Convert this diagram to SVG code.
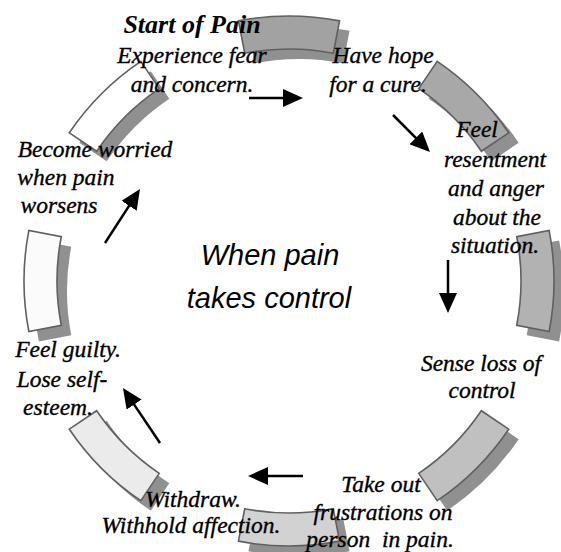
<svg xmlns="http://www.w3.org/2000/svg" width="561" height="552" viewBox="0 0 561 552">
<style>
.sh{fill:#909090;stroke:none}
.sg{stroke:#606060;stroke-width:1.6}
.t{font-family:"Liberation Serif","Times New Roman",serif;font-style:italic;font-size:23.5px;fill:#000;stroke:#000;stroke-width:0.35;text-anchor:middle}
.title{font-weight:bold;font-size:26px;stroke:none}
.c{font-family:"Liberation Sans",Arial,sans-serif;font-style:italic;font-size:29px;fill:#000;text-anchor:middle}
.ar{stroke:#000;stroke-width:2.5;fill:none;marker-end:url(#ah)}
</style>
<defs>
<path id="seg" d="M-50.56,-260.13 A265,265 0 0 1 50.56,-260.13 L44.27,-227.74 A232,232 0 0 0 -44.27,-227.74 Z"/>
<marker id="ah" viewBox="0 0 20 18" refX="2" refY="9" markerWidth="20" markerHeight="18" markerUnits="userSpaceOnUse" orient="auto">
<path d="M0,0 L20,9 L0,18 Z" fill="#000"/>
</marker>
</defs>
<g id="ring">
<g id="seg0"><use href="#seg" class="sh" transform="translate(299,291) rotate(0)"/><use href="#seg" class="sg" fill="#a2a2a2" transform="translate(289,281) rotate(0)"/></g>
<g id="seg45"><use href="#seg" class="sh" transform="translate(299,291) rotate(45)"/><use href="#seg" class="sg" fill="#a8a8a8" transform="translate(289,281) rotate(45)"/></g>
<g id="seg90"><use href="#seg" class="sh" transform="translate(299,291) rotate(90)"/><use href="#seg" class="sg" fill="#b2b2b2" transform="translate(289,281) rotate(90)"/></g>
<g id="seg135"><use href="#seg" class="sh" transform="translate(299,291) rotate(135)"/><use href="#seg" class="sg" fill="#c0c0c0" transform="translate(289,281) rotate(135)"/></g>
<g id="seg180"><use href="#seg" class="sh" transform="translate(299,291) rotate(180)"/><use href="#seg" class="sg" fill="#d2d2d2" transform="translate(289,281) rotate(180)"/></g>
<g id="seg225"><use href="#seg" class="sh" transform="translate(299,291) rotate(225)"/><use href="#seg" class="sg" fill="#ebebeb" transform="translate(289,281) rotate(225)"/></g>
<g id="seg270"><use href="#seg" class="sh" transform="translate(299,291) rotate(270)"/><use href="#seg" class="sg" fill="#fbfbfb" transform="translate(289,281) rotate(270)"/></g>
<g id="seg315"><use href="#seg" class="sh" transform="translate(299,291) rotate(315)"/><use href="#seg" class="sg" fill="#ffffff" transform="translate(289,281) rotate(315)"/></g>
</g>
<g id="connectors">
<line class="ar" x1="249" y1="98" x2="285" y2="98"/>
<line class="ar" x1="393" y1="115" x2="417.3" y2="139.3"/>
<line class="ar" x1="448" y1="260" x2="448" y2="295"/>
<line class="ar" x1="303" y1="476" x2="266" y2="476"/>
<line class="ar" x1="160" y1="443" x2="133" y2="402.9"/>
<line class="ar" x1="105" y1="243" x2="130.2" y2="204.1"/>
</g>
<g id="center"><text class="c" x="270" y="265">When pain</text><text class="c" x="269" y="308">takes control</text></g>
<g id="n-start"><text class="t title" x="192" y="33">Start of Pain</text><text class="t" x="192" y="63">Experience fear</text><text class="t" x="192" y="92">and concern.</text></g>
<g id="n-hope"><text class="t" x="383" y="63">Have hope</text><text class="t" x="378" y="92">for a cure.</text></g>
<g id="n-resent"><text class="t" x="477" y="137">Feel</text><text class="t" x="495" y="167">resentment</text><text class="t" x="496" y="196">and anger</text><text class="t" x="497" y="225">about the</text><text class="t" x="495" y="253">situation.</text></g>
<g id="n-loss"><text class="t" x="481" y="371">Sense loss of</text><text class="t" x="482" y="398">control</text></g>
<g id="n-take"><text class="t" x="381" y="492">Take out</text><text class="t" x="383" y="520">frustrations on</text><text class="t" x="380" y="547" xml:space="preserve">person  in pain.</text></g>
<g id="n-withdraw"><text class="t" x="193" y="507">Withdraw.</text><text class="t" x="191" y="533">Withhold affection.</text></g>
<g id="n-guilty"><text class="t" x="68" y="357">Feel guilty.</text><text class="t" x="62" y="387">Lose self-</text><text class="t" x="58" y="415">esteem.</text></g>
<g id="n-worried"><text class="t" x="95" y="157">Become worried</text><text class="t" x="66" y="185">when pain</text><text class="t" x="59" y="213">worsens</text></g>
</svg>
